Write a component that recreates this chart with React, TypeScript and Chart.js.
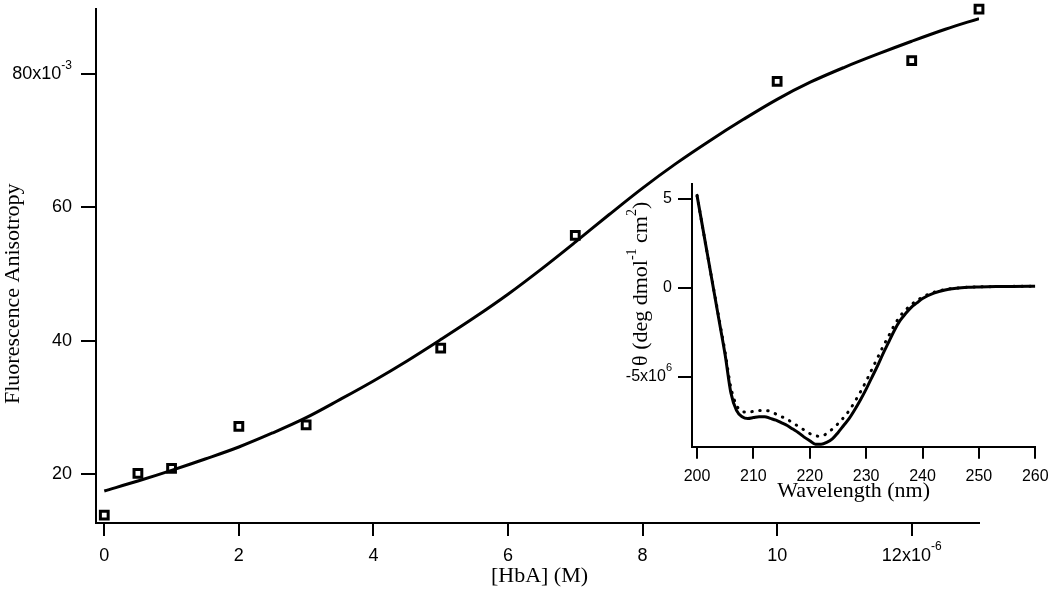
import React, { useEffect, useRef } from 'react';
import { Chart, registerables } from 'chart.js';

Chart.register(...registerables);

// ---------- main chart data (x in 10^-6 M, y in 10^-3) ----------
const hbaConc = [0, 0.5, 1, 2, 3, 5, 7, 10, 12, 13];
const anisotropy = [13.9, 20.15, 20.9, 27.2, 27.4, 38.9, 55.8, 78.9, 82.0, 89.7];

const fitConc = [0, 0.5, 1, 1.5, 2, 2.5, 3, 3.5, 4, 4.5, 5, 5.5, 6, 6.5, 7, 7.5, 8, 8.5, 9, 9.5, 10, 10.5, 11, 11.5, 12, 12.5, 13];
const fitAnisotropy = [17.5, 19.0, 20.6, 22.3, 24.1, 26.2, 28.5, 31.2, 34.0, 37.0, 40.2, 43.5, 47.0, 50.8, 54.8, 58.9, 62.9, 66.6, 70.0, 73.2, 76.2, 78.8, 81.0, 83.0, 84.9, 86.7, 88.3];

const mainXTicks = [0, 2, 4, 6, 8, 10, 12];
const mainYTicks = [20, 40, 60, 80];

// ---------- inset CD spectrum data (y in 10^6) ----------
const wavelength = [200, 201, 202, 203, 204, 205, 206, 207, 208, 209, 210, 211, 212, 213, 214, 215, 216, 217, 218, 219, 220, 221, 222, 223, 224, 225, 226, 227, 228, 229, 230, 231, 232, 233, 234, 235, 236, 237, 238, 239, 240, 242, 244, 246, 248, 250, 253, 256, 260];
const ellipticitySolid = [5.2, 3.4, 1.6, -0.2, -2.0, -3.8, -5.9, -6.9, -7.25, -7.35, -7.3, -7.25, -7.25, -7.35, -7.45, -7.6, -7.75, -7.95, -8.15, -8.4, -8.6, -8.8, -8.8, -8.7, -8.5, -8.15, -7.75, -7.35, -6.85, -6.3, -5.7, -5.05, -4.4, -3.7, -3.05, -2.4, -1.85, -1.45, -1.1, -0.85, -0.6, -0.3, -0.12, -0.02, 0.03, 0.05, 0.07, 0.08, 0.09];
const ellipticityDotted = [5.2, 3.4, 1.6, -0.15, -1.9, -3.65, -5.6, -6.6, -6.95, -7.0, -6.95, -6.9, -6.9, -6.95, -7.1, -7.25, -7.4, -7.6, -7.8, -8.0, -8.2, -8.33, -8.35, -8.2, -7.95, -7.65, -7.3, -6.9, -6.4, -5.85, -5.25, -4.6, -3.95, -3.3, -2.7, -2.1, -1.6, -1.25, -0.95, -0.72, -0.52, -0.25, -0.1, -0.02, 0.03, 0.05, 0.07, 0.08, 0.09];

const insetXTicks = [200, 210, 220, 230, 240, 250, 260];
const insetYTicks = [-5, 0, 5];

const SANS = "'Liberation Sans', Arial, Helvetica, sans-serif";
const SERIF = "'Liberation Serif', 'Times New Roman', Times, serif";

type Seg = { t: string; sup?: boolean };

function drawRich(
  ctx: CanvasRenderingContext2D,
  segs: Seg[],
  x: number,
  y: number,
  opts: { rotate?: boolean; align: 'left' | 'center' | 'right'; font: string; supFont: string; rise: number }
) {
  ctx.save();
  ctx.translate(x, y);
  if (opts.rotate) ctx.rotate(-Math.PI / 2);
  ctx.textBaseline = 'middle';
  ctx.textAlign = 'left';
  ctx.fillStyle = '#000';
  const widths = segs.map((s) => {
    ctx.font = s.sup ? opts.supFont : opts.font;
    return ctx.measureText(s.t).width;
  });
  const total = widths.reduce((a, b) => a + b, 0);
  let cx = opts.align === 'center' ? -total / 2 : opts.align === 'right' ? -total : 0;
  segs.forEach((s, i) => {
    ctx.font = s.sup ? opts.supFont : opts.font;
    ctx.fillText(s.t, cx, s.sup ? -opts.rise : 0);
    cx += widths[i];
  });
  ctx.restore();
}

const axisCommon = (tickLength: number) => ({
  grid: {
    display: true,
    drawOnChartArea: false,
    drawTicks: true,
    tickLength,
    color: '#000',
    lineWidth: 2,
    tickWidth: 2,
  },
  border: { display: true, color: '#000', width: 2 },
});

const fitX = (h: number) => (s: any) => {
  s.height = h;
  s.paddingLeft = 0;
  s.paddingRight = 0;
  s.paddingTop = 0;
  s.paddingBottom = 0;
};
const fitY = (w: number) => (s: any) => {
  s.width = w;
  s.paddingLeft = 0;
  s.paddingRight = 0;
  s.paddingTop = 0;
  s.paddingBottom = 0;
};

export default function App() {
  const mainRef = useRef<HTMLCanvasElement>(null);
  const insetRef = useRef<HTMLCanvasElement>(null);

  useEffect(() => {
    const MX_TICK = 13, MX_PAD = 9, MX_FONT = 18;
    const MY_TICK = 15, MY_PAD = 9;

    const mainDecor = {
      id: 'mainDecor',
      afterDraw(chart: any) {
        const ctx = chart.ctx as CanvasRenderingContext2D;
        const ca = chart.chartArea;
        const xs = chart.scales.x;
        const ys = chart.scales.y;
        drawRich(ctx, [{ t: '80x10' }, { t: '-3', sup: true }], ca.left - MY_TICK - MY_PAD, ys.getPixelForValue(80), {
          align: 'right', font: `18px ${SANS}`, supFont: `12px ${SANS}`, rise: 8,
        });
        drawRich(ctx, [{ t: '12x10' }, { t: '-6', sup: true }], xs.getPixelForValue(12), ca.bottom + MX_TICK + MX_PAD + MX_FONT * 0.6, {
          align: 'center', font: `18px ${SANS}`, supFont: `12px ${SANS}`, rise: 9,
        });
        drawRich(ctx, [{ t: 'Fluorescence Anisotropy' }], ca.left - 83, (ca.top + ca.bottom) / 2 + 28, {
          rotate: true, align: 'center', font: `22px ${SERIF}`, supFont: `14px ${SERIF}`, rise: 8,
        });
        drawRich(ctx, [{ t: '[HbA] (M)' }], (ca.left + ca.right) / 2 + 2, ca.bottom + 53, {
          align: 'center', font: `22px ${SERIF}`, supFont: `14px ${SERIF}`, rise: 8,
        });
      },
    };

    const main = new Chart(mainRef.current!, {
      type: 'scatter',
      data: {
        datasets: [
          {
            label: 'fit',
            data: fitConc.map((x, i) => ({ x, y: fitAnisotropy[i] })),
            showLine: true,
            borderColor: '#000',
            borderWidth: 3,
            pointRadius: 0,
            tension: 0.35,
            fill: false,
          },
          {
            label: 'data',
            data: hbaConc.map((x, i) => ({ x, y: anisotropy[i] })),
            showLine: false,
            pointStyle: 'rect',
            pointRadius: 5.5,
            borderWidth: 3,
            borderColor: '#000',
            backgroundColor: '#fff',
            clip: false,
          } as any,
        ],
      },
      options: {
        animation: false,
        responsive: false,
        devicePixelRatio: 1,
        layout: { padding: { left: 0, top: 5, right: 71, bottom: 0 } },
        plugins: { legend: { display: false }, tooltip: { enabled: false } },
        scales: {
          x: {
            type: 'linear',
            min: -0.123,
            max: 13.0,
            afterBuildTicks: (s: any) => { s.ticks = mainXTicks.map((v) => ({ value: v })); },
            afterFit: fitX(74),
            ...axisCommon(MX_TICK),
            ticks: {
              color: '#000',
              font: { family: SANS, size: MX_FONT },
              padding: MX_PAD,
              maxRotation: 0,
              autoSkip: false,
              callback: (v: any) => (v === 12 ? '' : String(v)),
            },
          },
          y: {
            type: 'linear',
            min: 12.71,
            max: 89.81,
            afterBuildTicks: (s: any) => { s.ticks = mainYTicks.map((v) => ({ value: v })); },
            afterFit: fitY(96),
            ...axisCommon(MY_TICK),
            ticks: {
              color: '#000',
              font: { family: SANS, size: 18 },
              padding: MY_PAD,
              autoSkip: false,
              callback: (v: any) => (v === 80 ? '' : String(v)),
            },
          },
        },
      } as any,
      plugins: [mainDecor],
    });

    const IX_TICK = 12, IX_PAD = 8, IX_FONT = 16;
    const IY_TICK = 14, IY_PAD = 6;

    const insetDecor = {
      id: 'insetDecor',
      afterDraw(chart: any) {
        const ctx = chart.ctx as CanvasRenderingContext2D;
        const ca = chart.chartArea;
        const ys = chart.scales.y;
        drawRich(ctx, [{ t: '-5x10' }, { t: '6', sup: true }], ca.left - IY_TICK - IY_PAD, ys.getPixelForValue(-5), {
          align: 'right', font: `16px ${SANS}`, supFont: `11px ${SANS}`, rise: 9,
        });
        drawRich(ctx, [{ t: 'Wavelength (nm)' }], (ca.left + ca.right) / 2 - 10, ca.bottom + 45, {
          align: 'center', font: `22px ${SERIF}`, supFont: `14px ${SERIF}`, rise: 8,
        });
        drawRich(
          ctx,
          [{ t: 'θ (deg dmol' }, { t: '-1', sup: true }, { t: ' cm' }, { t: '2', sup: true }, { t: ')' }],
          ca.left - 51,
          ys.getPixelForValue(0) - 4,
          { rotate: true, align: 'center', font: `22px ${SERIF}`, supFont: `14px ${SERIF}`, rise: 9 }
        );
      },
    };

    const inset = new Chart(insetRef.current!, {
      type: 'scatter',
      data: {
        datasets: [
          {
            label: 'dotted',
            data: wavelength.map((x, i) => ({ x, y: ellipticityDotted[i] })),
            showLine: true,
            borderColor: '#000',
            borderWidth: 3,
            borderDash: [0.5, 7.5],
            borderCapStyle: 'round',
            pointRadius: 0,
            cubicInterpolationMode: 'monotone',
            fill: false,
          } as any,
          {
            label: 'solid',
            data: wavelength.map((x, i) => ({ x, y: ellipticitySolid[i] })),
            showLine: true,
            borderColor: '#000',
            borderWidth: 3,
            pointRadius: 0,
            cubicInterpolationMode: 'monotone',
            fill: false,
          } as any,
        ],
      },
      options: {
        animation: false,
        responsive: false,
        devicePixelRatio: 1,
        layout: { padding: { left: 0, top: 24, right: 14.7, bottom: 0 } },
        plugins: { legend: { display: false }, tooltip: { enabled: false } },
        scales: {
          x: {
            type: 'linear',
            min: 199.11,
            max: 260,
            afterBuildTicks: (s: any) => { s.ticks = insetXTicks.map((v) => ({ value: v })); },
            afterFit: fitX(73.3),
            ...axisCommon(IX_TICK),
            ticks: {
              color: '#000',
              font: { family: SANS, size: IX_FONT },
              padding: IX_PAD,
              maxRotation: 0,
              autoSkip: false,
              callback: (v: any) => String(v),
            },
          },
          y: {
            type: 'linear',
            min: -8.94,
            max: 5.84,
            afterBuildTicks: (s: any) => { s.ticks = insetYTicks.map((v) => ({ value: v })); },
            afterFit: fitY(92),
            ...axisCommon(IY_TICK),
            ticks: {
              color: '#000',
              font: { family: SANS, size: 16 },
              padding: IY_PAD,
              autoSkip: false,
              callback: (v: any) => (v === -5 ? '' : String(v)),
            },
          },
        },
      } as any,
      plugins: [insetDecor],
    });

    return () => {
      main.destroy();
      inset.destroy();
    };
  }, []);

  return (
    <div style={{ position: 'absolute', left: 0, top: 0, width: 1050, height: 597, background: '#fff', overflow: 'hidden' }}>
      <canvas
        ref={mainRef}
        width={1050}
        height={597}
        style={{ position: 'absolute', left: 0, top: 0, width: 1050, height: 597 }}
      />
      <canvas
        ref={insetRef}
        width={450}
        height={360}
        style={{ position: 'absolute', left: 600, top: 160, width: 450, height: 360 }}
      />
    </div>
  );
}
